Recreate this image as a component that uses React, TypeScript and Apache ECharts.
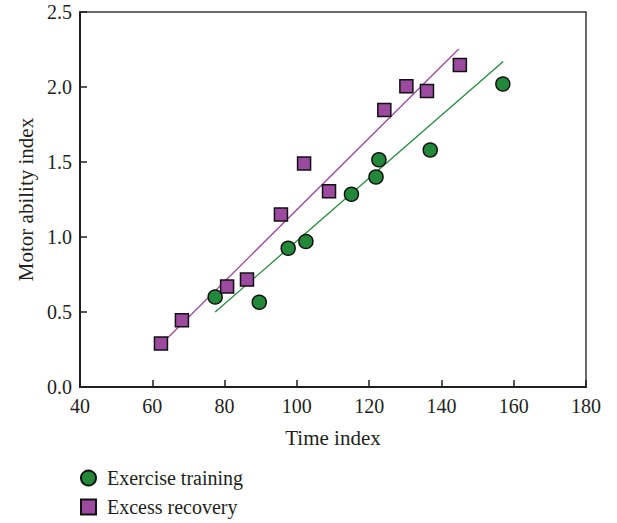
import React, { useEffect, useRef } from "react";
import * as echarts from "echarts";

const exerciseX = [77.4, 89.6, 97.6, 102.5, 115.1, 121.9, 122.7, 136.9, 157.0];
const exerciseY = [0.60, 0.565, 0.925, 0.97, 1.285, 1.40, 1.515, 1.58, 2.02];
const recoveryX = [62.4, 68.2, 80.7, 86.2, 95.6, 102.0, 108.9, 124.2, 130.3, 136.0, 145.1];
const recoveryY = [0.29, 0.445, 0.67, 0.716, 1.15, 1.49, 1.305, 1.846, 2.005, 1.973, 2.146];
const exerciseFitX = [77.4, 157.1];
const exerciseFitY = [0.50, 2.17];
const recoveryFitX = [62.5, 144.8];
const recoveryFitY = [0.285, 2.253];

const GREEN = "#23893a";
const PURPLE = "#9b4a9f";
const INK = "#231f20";
const FONT = "Liberation Serif";

function pairs(xs: number[], ys: number[]) {
  return xs.map((x, i) => [x, ys[i]]);
}

export default function App() {
  const ref = useRef<HTMLDivElement>(null);
  useEffect(() => {
    if (!ref.current) return;
    const chart = echarts.init(ref.current, undefined, { renderer: "svg" });
    chart.setOption({
      animation: false,
      backgroundColor: "#ffffff",
      grid: {
        left: 80,
        right: 31,
        top: 12,
        bottom: 136,
        show: true,
        borderColor: "#3a3a3a",
        borderWidth: 1.5,
      },
      xAxis: {
        type: "value",
        min: 40,
        max: 180,
        interval: 20,
        name: "Time index",
        nameLocation: "middle",
        nameGap: 40,
        nameTextStyle: { fontFamily: FONT, fontSize: 21, color: INK },
        axisLine: { show: true, lineStyle: { color: INK, width: 2 } },
        axisTick: { show: true, inside: true, length: 7, lineStyle: { color: INK, width: 1.5 } },
        axisLabel: { fontFamily: FONT, fontSize: 20, color: INK, margin: 9 },
        splitLine: { show: false },
      },
      yAxis: {
        type: "value",
        min: 0,
        max: 2.5,
        interval: 0.5,
        name: "Motor ability index",
        nameLocation: "middle",
        nameGap: 42,
        nameTextStyle: { fontFamily: FONT, fontSize: 21, color: INK },
        axisLine: { show: true, lineStyle: { color: INK, width: 2 } },
        axisTick: { show: true, inside: true, length: 7, lineStyle: { color: INK, width: 1.5 } },
        axisLabel: {
          fontFamily: FONT,
          fontSize: 20,
          color: INK,
          margin: 8,
          formatter: (v: number) => v.toFixed(1),
        },
        splitLine: { show: false },
      },
      legend: {
        orient: "vertical",
        left: 80,
        top: 468,
        padding: 0,
        itemWidth: 15,
        itemHeight: 15,
        itemGap: 9,
        data: ["Exercise training", "Excess recovery"],
        textStyle: { fontFamily: FONT, fontSize: 20, color: INK, padding: [0, 0, 0, 6] },
      },
      series: [
        {
          name: "Exercise fit",
          type: "line",
          data: pairs(exerciseFitX, exerciseFitY),
          showSymbol: false,
          symbol: "none",
          lineStyle: { color: GREEN, width: 1.3 },
          silent: true,
          z: 1,
        },
        {
          name: "Recovery fit",
          type: "line",
          data: pairs(recoveryFitX, recoveryFitY),
          showSymbol: false,
          symbol: "none",
          lineStyle: { color: PURPLE, width: 1.3 },
          silent: true,
          z: 1,
        },
        {
          name: "Exercise training",
          type: "scatter",
          symbol: "circle",
          symbolSize: 14,
          data: pairs(exerciseX, exerciseY),
          itemStyle: { color: GREEN, borderColor: "#111", borderWidth: 1.5, opacity: 1 },
          z: 3,
        },
        {
          name: "Excess recovery",
          type: "scatter",
          symbol: "rect",
          symbolSize: 13,
          data: pairs(recoveryX, recoveryY),
          itemStyle: { color: PURPLE, borderColor: "#111", borderWidth: 1.5, opacity: 1 },
          z: 3,
        },
      ],
    });
    return () => chart.dispose();
  }, []);
  return <div ref={ref} style={{ width: 617, height: 523, position: "absolute", left: 0, top: 0 }} />;
}
